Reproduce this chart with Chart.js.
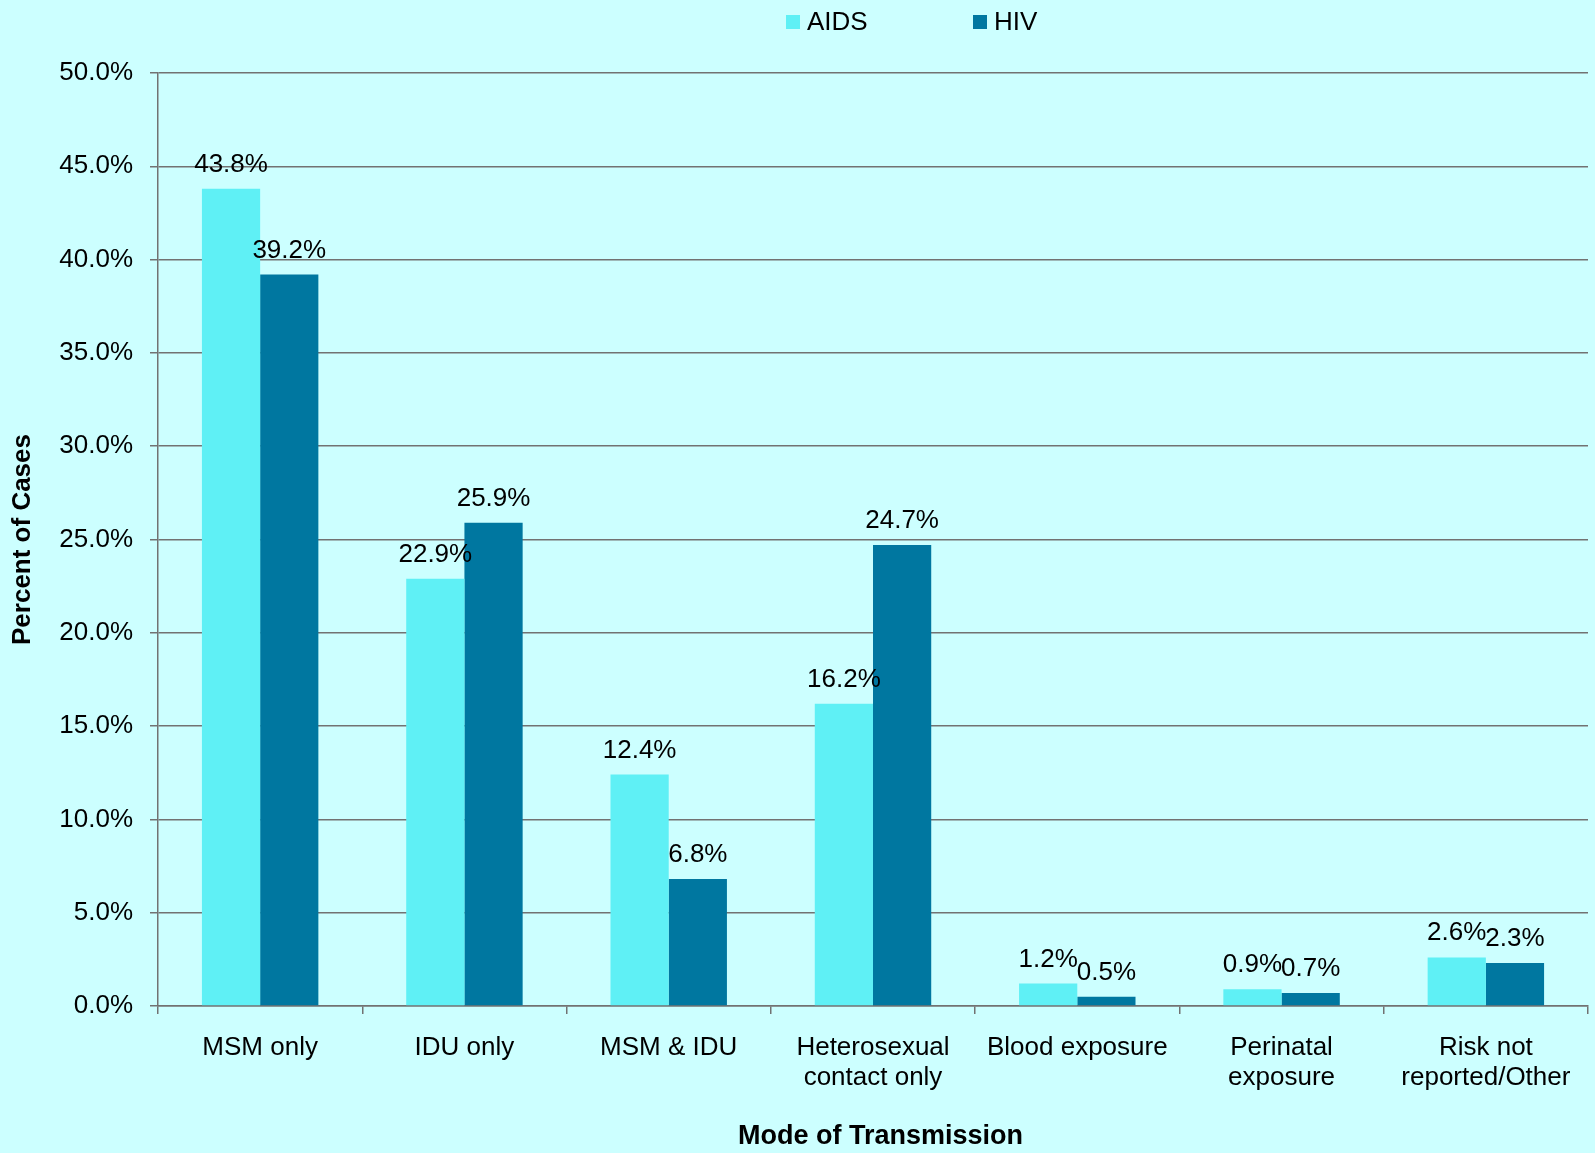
<!DOCTYPE html>
<html>
<head>
<meta charset="utf-8">
<title>Mode of Transmission</title>
<script src="https://cdn.jsdelivr.net/npm/chart.js@4/dist/chart.umd.min.js"></script>
<style>
  html, body { margin: 0; padding: 0; background: #ccffff; }
  #wrap { width: 1595px; height: 1153px; position: relative; }
</style>
</head>
<body>
<div id="wrap"><canvas id="modeChart"></canvas></div>
<script>
// data
const categories = [
  'MSM only',
  'IDU only',
  'MSM & IDU',
  ['Heterosexual', 'contact only'],
  'Blood exposure',
  ['Perinatal', 'exposure'],
  ['Risk not', 'reported/Other']
];
const aidsValues = [43.8, 22.9, 12.4, 16.2, 1.2, 0.9, 2.6];
const hivValues  = [39.2, 25.9, 6.8, 24.7, 0.5, 0.7, 2.3];
const seriesNames = ['AIDS', 'HIV'];
const yTicks = [0, 5, 10, 15, 20, 25, 30, 35, 40, 45, 50];

const FONT = "'Liberation Sans', Arial, sans-serif";
const gridGray = '#727272';
const seriesColors = ['#5ff0f5', '#0077a0'];

// page background
const bgPlugin = {
  id: 'bg',
  beforeDraw(chart){
    const ctx = chart.ctx;
    ctx.save();
    ctx.fillStyle = '#ccffff';
    ctx.fillRect(0, 0, chart.width, chart.height);
    ctx.restore();
  }
};

// value labels above every bar
const valueLabels = {
  id: 'valueLabels',
  afterDatasetsDraw(chart){
    const ctx = chart.ctx;
    ctx.save();
    ctx.font = '26px ' + FONT;
    ctx.fillStyle = '#000';
    ctx.textAlign = 'center';
    ctx.textBaseline = 'alphabetic';
    chart.data.datasets.forEach((ds, i) => {
      chart.getDatasetMeta(i).data.forEach((bar, j) => {
        ctx.fillText(ds.data[j].toFixed(1) + '%', bar.x, bar.y - 17);
      });
    });
    ctx.restore();
  }
};

// legend placed like the original (top, right of centre)
const legendX = [786, 973];
const topLegend = {
  id: 'topLegend',
  afterDraw(chart){
    const ctx = chart.ctx;
    ctx.save();
    ctx.font = '26px ' + FONT;
    ctx.textBaseline = 'middle';
    ctx.textAlign = 'left';
    chart.data.datasets.forEach((ds, i) => {
      ctx.fillStyle = ds.backgroundColor;
      ctx.fillRect(legendX[i], 15, 14, 14);
      ctx.fillStyle = '#000';
      ctx.fillText(ds.label, legendX[i] + 21, 23);
    });
    ctx.restore();
  }
};

const chart = new Chart(document.getElementById('modeChart'), {
  type: 'bar',
  data: {
    labels: categories,
    datasets: [
      { label: seriesNames[0], data: aidsValues, backgroundColor: seriesColors[0] },
      { label: seriesNames[1], data: hivValues, backgroundColor: seriesColors[1] }
    ]
  },
  options: {
    responsive: true,
    maintainAspectRatio: false,
    animation: false,
    categoryPercentage: 0.57,
    barPercentage: 1.0,
    layout: { padding: { top: 73, right: 7, bottom: 0, left: 0 } },
    plugins: {
      legend: { display: false },
      tooltip: { enabled: false }
    },
    scales: {
      x: {
        grid: { display: true, drawOnChartArea: false, drawTicks: true, tickLength: 8,
                offset: true, color: gridGray, lineWidth: 1.5 },
        border: { display: true, color: gridGray, width: 1.5 },
        ticks: { color: '#000', font: { family: FONT, size: 26, lineHeight: 1.18 },
                 padding: 18, maxRotation: 0, autoSkip: false },
        title: { display: true, text: '  Mode of Transmission', color: '#000',
                 font: { family: FONT, size: 27, weight: 'bold' }, padding: { top: 0, bottom: 0 } },
        afterFit(scale){ scale.height = 147; }
      },
      y: {
        min: 0, max: 50,
        afterBuildTicks(scale){ scale.ticks = yTicks.map(v => ({ value: v })); },
        grid: { color: gridGray, lineWidth: 1.5, tickLength: 8 },
        border: { display: true, color: gridGray, width: 1.5 },
        ticks: { color: '#000', font: { family: FONT, size: 26 }, padding: 17,
                 callback: v => v.toFixed(1) + '%' },
        title: { display: true, text: 'Percent of Cases', color: '#000',
                 font: { family: FONT, size: 26, weight: 'bold' }, padding: { top: 7, bottom: 0 } },
        afterFit(scale){ scale.width = 158; }
      }
    }
  },
  plugins: [bgPlugin, valueLabels, topLegend]
});
</script>
</body>
</html>
